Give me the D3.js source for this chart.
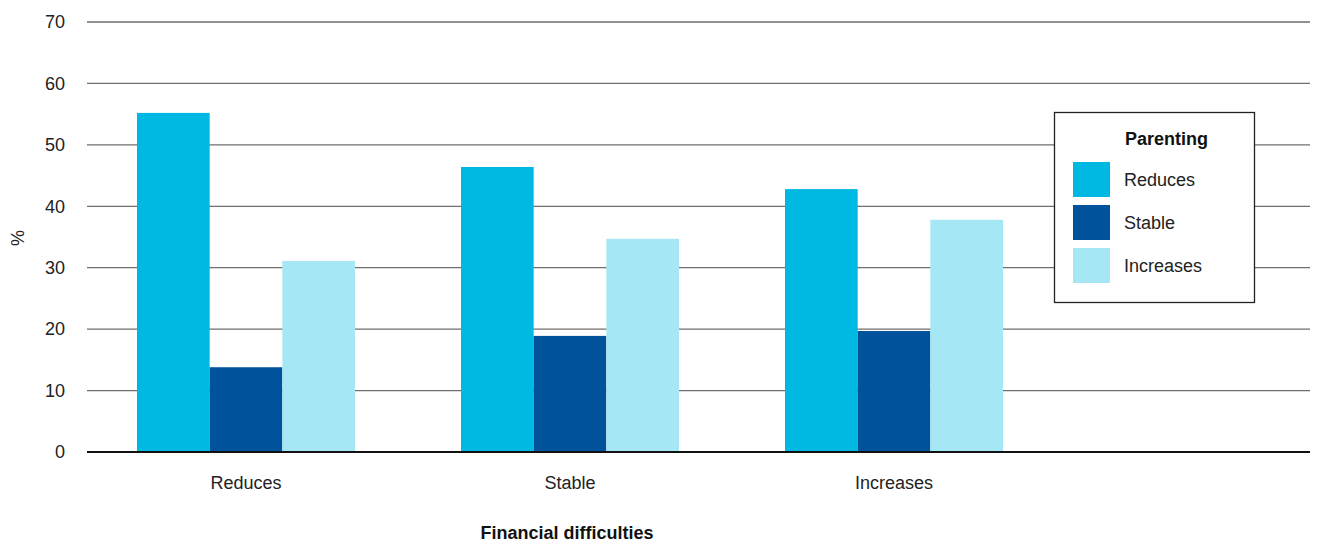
<!DOCTYPE html>
<html><head><meta charset="utf-8">
<script src="https://cdn.jsdelivr.net/npm/d3@7"></script>
<style>body{margin:0;background:#fff}svg{display:block;font-family:"Liberation Sans",Arial,sans-serif}</style>
</head><body><svg id="c" width="1317" height="544"></svg>
<script>
const categories = ["Reduces", "Stable", "Increases"];
const seriesNames = ["Reduces", "Stable", "Increases"];
const reducesValues = [55.2, 46.4, 42.8];
const stableValues = [13.8, 18.9, 19.7];
const increasesValues = [31.1, 34.7, 37.8];
const yTicks = [0, 10, 20, 30, 40, 50, 60, 70];
const colors = ["#00b9e3", "#00539b", "#a6e7f5"];

const seriesValues = [reducesValues, stableValues, increasesValues];
const svg = d3.select("#c");
const plotLeft = 87, plotRight = 1310, plotTop = 22, plotBottom = 452;

const y = d3.scaleLinear().domain([0, 70]).range([plotBottom, plotTop]);
const x0 = d3.scaleBand().domain(categories).range([84, 1056]).paddingInner(106/324).paddingOuter(53/324);
const x1 = d3.scaleBand().domain(seriesNames).range([0, x0.bandwidth()]).padding(0);

// gridlines
svg.append("g").selectAll("line").data(yTicks.filter(t => t > 0)).join("line")
  .attr("x1", plotLeft).attr("x2", plotRight)
  .attr("y1", d => y(d)).attr("y2", d => y(d))
  .attr("stroke", "#6e6e6e").attr("stroke-width", 1.3);

// y tick labels
svg.append("g").selectAll("text").data(yTicks).join("text")
  .attr("x", 65).attr("y", d => y(d)).attr("dy", "0.35em")
  .attr("text-anchor", "end").attr("font-size", 18).attr("fill", "#222")
  .text(d => d);

// bars
const groups = svg.append("g").selectAll("g").data(categories).join("g")
  .attr("transform", d => `translate(${x0(d)},0)`);
groups.selectAll("rect").data((c, i) => seriesNames.map((s, j) => ({s, j, v: seriesValues[j][i]}))).join("rect")
  .attr("x", d => x1(d.s)).attr("width", x1.bandwidth())
  .attr("y", d => y(d.v)).attr("height", d => y(0) - y(d.v))
  .attr("fill", d => colors[d.j]);

// baseline
svg.append("line").attr("x1", plotLeft).attr("x2", plotRight).attr("y1", y(0)).attr("y2", y(0))
  .attr("stroke", "#111").attr("stroke-width", 2);

// x labels
svg.append("g").selectAll("text").data(categories).join("text")
  .attr("x", d => x0(d) + x0.bandwidth()/2).attr("y", 489)
  .attr("text-anchor", "middle").attr("font-size", 18).attr("fill", "#222").text(d => d);

svg.append("text").attr("x", 567).attr("y", 539).attr("text-anchor", "middle")
  .attr("font-size", 18).attr("font-weight", "bold").attr("fill", "#111").text("Financial difficulties");

svg.append("text").attr("transform", "translate(24,238) rotate(-90)").attr("text-anchor", "middle")
  .attr("font-size", 18).attr("fill", "#222").text("%");

// legend
const lg = svg.append("g");
lg.append("rect").attr("x", 1054.5).attr("y", 112.5).attr("width", 200).attr("height", 190)
  .attr("fill", "#fff").attr("stroke", "#222").attr("stroke-width", 1.3);
lg.append("text").attr("x", 1125).attr("y", 145).attr("font-size", 18).attr("font-weight", "bold")
  .attr("fill", "#111").text("Parenting");
const items = lg.selectAll("g.it").data(seriesNames).join("g").attr("class", "it")
  .attr("transform", (d, i) => `translate(1073,${162 + i * 43})`);
items.append("rect").attr("width", 37).attr("height", 35).attr("fill", (d, i) => colors[i]);
items.append("text").attr("x", 51).attr("y", 18).attr("dy", "0.35em").attr("font-size", 18)
  .attr("fill", "#222").text(d => d);
</script></body></html>
